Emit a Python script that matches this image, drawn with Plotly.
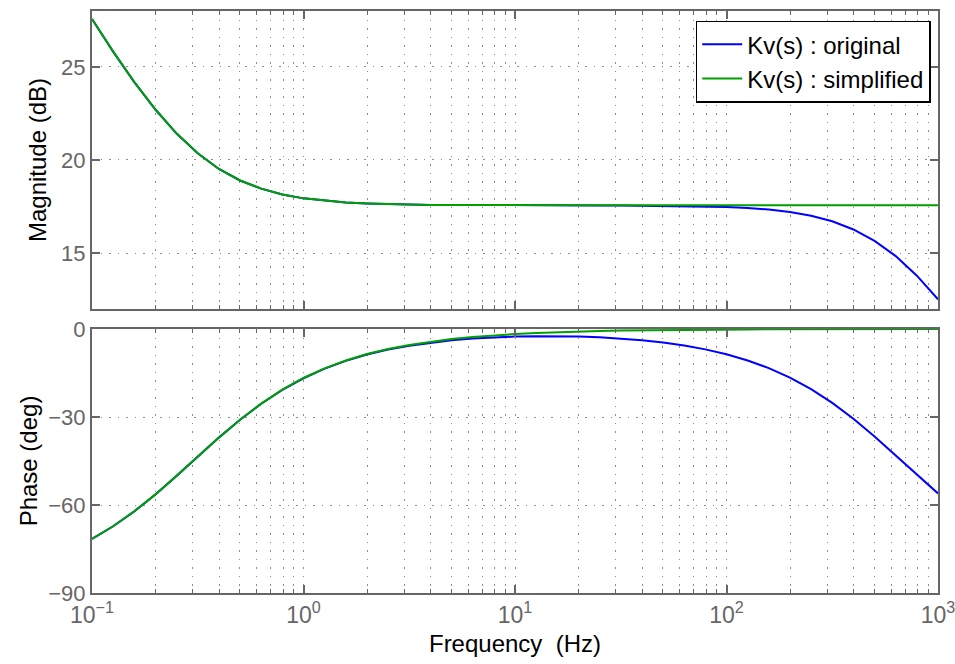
import plotly.graph_objects as go

# Frequency points (Hz)
freq = [0.1, 0.1259, 0.1585, 0.1995, 0.2512, 0.3162, 0.3981, 0.5012, 0.631, 0.7943,
        1.0, 1.259, 1.585, 1.995, 2.512, 3.162, 3.981, 5.012, 6.31, 7.943,
        10.0, 12.59, 15.85, 19.95, 25.12, 31.62, 39.81, 50.12, 63.1, 79.43,
        100.0, 125.9, 158.5, 199.5, 251.2, 316.2, 398.1, 501.2, 631.0, 794.3, 1000.0]

# Magnitude (dB)
mag_original = [27.57, 25.82, 24.18, 22.71, 21.42, 20.36, 19.52, 18.90, 18.46, 18.15,
                17.94, 17.81, 17.72, 17.67, 17.63, 17.61, 17.59, 17.59, 17.58, 17.58,
                17.57, 17.57, 17.57, 17.57, 17.56, 17.56, 17.55, 17.55, 17.53, 17.51,
                17.48, 17.42, 17.34, 17.21, 17.01, 16.71, 16.27, 15.66, 14.84, 13.79, 12.52]
mag_simplified = [27.57, 25.82, 24.18, 22.71, 21.42, 20.36, 19.52, 18.90, 18.46, 18.15,
                  17.94, 17.81, 17.72, 17.67, 17.63, 17.61, 17.59, 17.59, 17.58, 17.58,
                  17.57, 17.57, 17.57, 17.57, 17.57, 17.57, 17.57, 17.57, 17.57, 17.57,
                  17.57, 17.57, 17.57, 17.57, 17.57, 17.57, 17.57, 17.57, 17.57, 17.57, 17.57]

# Phase (deg)
phase_original = [-71.58, -67.25, -62.16, -56.40, -50.07, -43.52, -37.03, -30.95, -25.48, -20.75,
                  -16.79, -13.51, -10.86, -8.72, -7.02, -5.69, -4.65, -3.86, -3.26, -2.84,
                  -2.57, -2.44, -2.43, -2.56, -2.81, -3.23, -3.81, -4.59, -5.62, -6.94,
                  -8.61, -10.72, -13.35, -16.58, -20.51, -25.18, -30.61, -36.66, -43.14, -49.71, -56.04]
phase_simplified = [-71.57, -67.24, -62.15, -56.38, -50.05, -43.49, -37.00, -30.91, -25.43, -20.69,
                    -16.70, -13.40, -10.72, -8.55, -6.81, -5.42, -4.31, -3.43, -2.72, -2.16,
                    -1.72, -1.37, -1.08, -0.86, -0.68, -0.54, -0.43, -0.34, -0.27, -0.22,
                    -0.17, -0.14, -0.11, -0.09, -0.07, -0.05, -0.04, -0.03, -0.03, -0.02, -0.02]

series_names = ["Kv(s) : original", "Kv(s) : simplified"]
freq_ticks = [0.1, 1, 10, 100, 1000]
freq_ticktext = ["10<sup>\u22121</sup>", "10<sup>0</sup>", "10<sup>1</sup>",
                 "10<sup>2</sup>", "10<sup>3</sup>"]
mag_ticks = [15, 20, 25]
phase_ticks = [-90, -60, -30, 0]
phase_ticktext = ["\u221290", "\u221260", "\u221230", "0"]

BLUE = "#0000ff"
GREEN = "#00a000"
AXC = "#666666"
GRIDC = "#8c8c8c"
GRIDDASH = "1.5px,7px"
FONT = "Liberation Sans, Arial, Helvetica, sans-serif"

fig = go.Figure()
fig.add_trace(go.Scatter(x=freq, y=mag_original, mode="lines", name=series_names[0],
                         line=dict(color=BLUE, width=2), xaxis="x", yaxis="y", legendgroup="a"))
fig.add_trace(go.Scatter(x=freq, y=mag_simplified, mode="lines", name=series_names[1],
                         line=dict(color=GREEN, width=2), xaxis="x", yaxis="y", legendgroup="b"))
fig.add_trace(go.Scatter(x=freq, y=phase_original, mode="lines", name=series_names[0],
                         line=dict(color=BLUE, width=2), xaxis="x2", yaxis="y2",
                         showlegend=False, legendgroup="a"))
fig.add_trace(go.Scatter(x=freq, y=phase_simplified, mode="lines", name=series_names[1],
                         line=dict(color=GREEN, width=2), xaxis="x2", yaxis="y2",
                         showlegend=False, legendgroup="b"))

minor_x = dict(ticks="inside", ticklen=4, tickcolor=AXC, tickwidth=1, dtick="D1",
               showgrid=True, gridcolor=GRIDC, griddash=GRIDDASH, gridwidth=1)

xcommon = dict(type="log", range=[-1, 3], tickvals=freq_ticks, ticktext=freq_ticktext,
               ticks="inside", ticklen=8, tickwidth=1.5, tickcolor=AXC,
               showline=True, linecolor=AXC, linewidth=2, mirror="allticks",
               showgrid=True, gridcolor=GRIDC, griddash=GRIDDASH, gridwidth=1,
               minor=minor_x, zeroline=False, automargin=False,
               ticklabeloverflow="allow",
               tickfont=dict(family=FONT, size=23, color=AXC))

ycommon = dict(ticks="inside", ticklen=8, tickwidth=1.5, tickcolor=AXC,
               showline=True, linecolor=AXC, linewidth=2, mirror="allticks",
               showgrid=True, gridcolor=GRIDC, griddash=GRIDDASH, gridwidth=1,
               zeroline=False, automargin=False, ticklabeloverflow="allow",
               tickfont=dict(family=FONT, size=22, color=AXC))

fig.update_layout(
    width=955, height=664,
    margin=dict(l=92, r=17, t=11, b=71, autoexpand=False),
    paper_bgcolor="white", plot_bgcolor="white",
    font=dict(family=FONT, size=22, color="black"),
    showlegend=True,
    xaxis=dict(**xcommon, anchor="y", showticklabels=False, matches="x2"),
    xaxis2=dict(**xcommon, anchor="y2",
                title=dict(text="Frequency  (Hz)", font=dict(family=FONT, size=24, color="black"),
                           standoff=9)),
    yaxis=dict(**ycommon, domain=[0.488, 1.0], range=[12, 28], tickvals=mag_ticks,
               anchor="x",
               title=dict(text="Magnitude (dB)", font=dict(family=FONT, size=24, color="black"),
                          standoff=8)),
    yaxis2=dict(**ycommon, domain=[0.0, 0.4536], range=[-90, 0], tickvals=phase_ticks,
                ticktext=phase_ticktext, anchor="x2",
                title=dict(text="Phase (deg)", font=dict(family=FONT, size=24, color="black"),
                           standoff=4)),
    legend=dict(x=0.9914, y=0.9833, xanchor="right", yanchor="top",
                bgcolor="white", bordercolor="black", borderwidth=1.5,
                font=dict(family=FONT, size=24, color="black"),
                tracegroupgap=0, itemwidth=40),
    hovermode=False,
)

fig.write_html("out.html", config={"displayModeBar": False})
